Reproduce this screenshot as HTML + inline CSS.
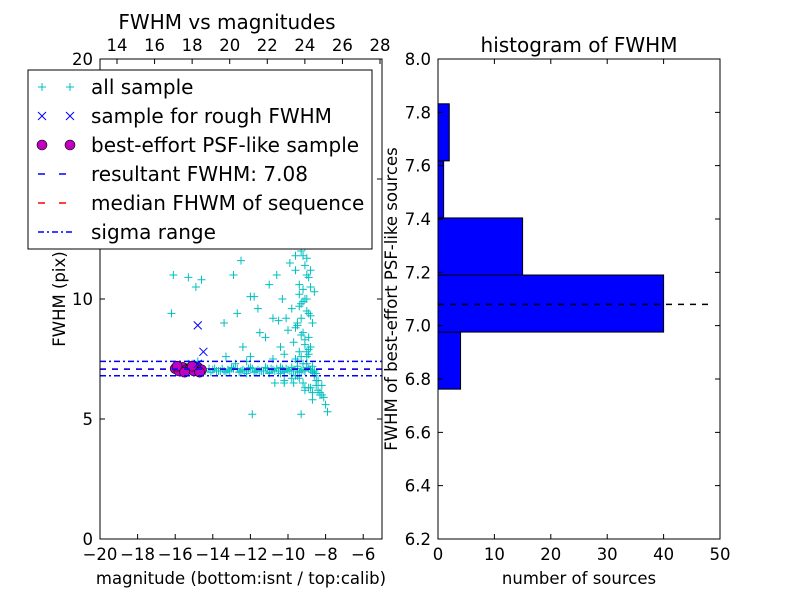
<!DOCTYPE html>
<html><head><meta charset="utf-8"><style>
body{margin:0;background:#fff}
svg{display:block;font-family:"DejaVu Sans","Liberation Sans",sans-serif}
</style></head><body>
<svg id="c" width="800" height="600" viewBox="0 0 800 600">
<rect width="800" height="600" fill="#fff"/>
<g id="left"></g>
<g id="right"></g>
</svg>
<script>
// scatter data: all sample [mag, fwhm]
const allMag = [-16.1,-16.2,-15.3,-14.9,-14.6,-12.9,-12.0,-13.4,-15.1,-15.3,-14.8,-10.8,-11.0,-11.8,-12.5,-12.7,-13.3,-11.5,-12.2,-10.6,-10.3,-9.9,-9.6,-9.3,-9.0,-8.8,-8.6,-9.4,-9.1,-9.8,-10.1,-9.5,-9.2,-8.9,-9.7,-10.4,-9.0,-9.3,-9.6,-8.7,-9.1,-9.5,-9.8,-10.2,-8.5,-8.3,-8.1,-8.0,-7.9,-8.4,-8.6,-8.8,-9.2,-9.4,-8.2,-8.7,-11.2,-10.0,-10.5,-11.6,-12.4,-9.9,-9.0,-9.6,-10.8,-9.3,-11.9,-12.8,-10.7,-13.6,-14.2,-13.8,-13.0,-12.2,-11.4,-10.6,-10.2,-9.8,-14.4,-13.9,-13.4,-12.9,-12.5,-12.1,-11.7,-11.3,-10.9,-10.5,-10.1,-9.7,-9.3,-8.9,-8.6,-14.0,-13.2,-12.4,-11.6,-10.8,-10.0,-9.2,-8.8,-11.0,-10.4,-9.6,-12.2,-9.5,-9.0,-8.5,-9.7,-10.2,-9.1,-12.0,-10.2,-9.4,-8.8,
 -9.3,-9.1,-8.9,-9.4,-9.2,-9.0,-8.8,-9.5,-9.3,-9.1,-8.9,-9.6,-9.4,-9.2,-9.0,-8.7,-9.3,-9.1,-8.9,-9.5,-9.2,-9.0,-9.4,-9.1,-8.8,-9.3,-9.0,-9.6,-9.2,-8.9,
 -13.7,-13.5,-13.1,-12.7,-12.3,-11.9,-11.5,-11.1,-10.7,-10.3,-9.9,-9.5,-9.1,-14.1,-13.3,-12.6,-11.8,-11.0,-10.2,-9.4,-8.7,-13.0,-12.0,-11.2,-10.4,-9.8,-9.0,-8.6,-8.4,-8.2,-8.5,-8.3,-8.7,-8.9,-9.1];
const allFwhm = [11.0,9.4,10.9,10.5,10.8,11.0,10.1,9.0,7.3,7.3,7.4,9.2,10.6,10.1,11.6,9.4,7.6,8.6,7.4,11.0,10.0,11.5,11.8,12.3,11.7,11.2,10.3,10.2,10.0,9.6,9.2,9.0,8.6,8.4,8.2,8.0,7.8,7.6,7.5,7.2,7.0,6.8,6.7,6.5,6.4,6.1,5.9,5.6,5.3,6.6,6.9,6.3,6.5,6.7,6.0,5.8,8.4,8.7,9.1,9.6,8.0,12.6,13.0,12.9,7.5,5.2,5.2,7.3,6.5,7.0,7.1,7.0,7.1,7.0,7.0,7.1,7.0,7.0,7.0,7.1,7.0,7.1,7.0,7.1,7.0,7.0,7.1,7.0,7.1,7.0,7.0,7.1,7.0,7.05,7.05,7.05,7.05,7.05,7.05,7.05,7.05,6.9,6.9,6.8,6.9,7.2,7.3,6.9,6.5,6.6,6.3,7.6,7.7,7.8,10.5,
 12.0,11.4,10.9,10.6,9.9,9.5,9.3,8.9,8.5,8.1,7.9,8.8,9.7,10.4,11.0,9.0,9.2,8.3,7.7,7.4,7.3,7.6,12.8,12.2,8.0,9.8,10.0,11.2,11.8,9.4,
 7.0,7.1,7.0,7.1,7.0,7.1,7.0,7.1,7.0,7.1,7.0,7.1,7.0,6.95,6.95,6.95,6.95,6.95,6.95,6.95,6.95,7.15,7.15,7.15,7.15,7.15,7.15,6.8,6.2,6.4,6.6,6.0,6.1,6.3,6.2];
const roughMag = [-14.8,-14.5,-14.8];
const roughFwhm = [8.9,7.8,7.3];
const psfMag = [-16.0,-15.8,-15.6,-15.4,-15.2,-15.0,-14.8,-14.6,-15.9,-15.5,-15.1,-14.7];
const psfFwhm = [7.1,7.0,7.15,7.05,7.1,7.0,7.15,7.05,7.2,6.95,7.2,6.95];
const resultFwhm = 7.08, medianFwhm = 7.08, sigmaLo = 6.8, sigmaHi = 7.4;
const xTicks = [-20,-18,-16,-14,-12,-10,-8,-6];
const xTickLabels = ["\u221220","\u221218","\u221216","\u221214","\u221212","\u221210","\u22128","\u22126"];
const yTicks = [0,5,10,15,20];
const topTicks = [14,16,18,20,22,24,26,28];
// histogram data
const binEdges = [6.762,6.976,7.190,7.404,7.618,7.832];
const binCounts = [4,40,15,1,2];
const hYTicks = [6.2,6.4,6.6,6.8,7.0,7.2,7.4,7.6,7.8,8.0];
const hXTicks = [0,10,20,30,40,50];

const NS="http://www.w3.org/2000/svg";
function mk(p,t,a,txt){const e=document.createElementNS(NS,t);for(const k in a)e.setAttribute(k,a[k]);if(txt!==undefined)e.textContent=txt;p.appendChild(e);return e;}
const L=document.getElementById('left'), R=document.getElementById('right');
const TF=16.5;
const lx0=100,lx1=382,ly0=59,ly1=539;
const sx=v=>lx0+(v+20)/15*(lx1-lx0);
const sy=v=>ly1-v/20*(ly1-ly0);
const tx=v=>117+(v-14)*(380-117)/14;
let cp=mk(L,'clipPath',{id:'lc'});mk(cp,'rect',{x:lx0,y:ly0,width:lx1-lx0,height:ly1-ly0});
const pts=mk(L,'g',{'clip-path':'url(#lc)'});


allMag.forEach((m,i)=>{const x=sx(m),y=sy(allFwhm[i]);
 const p=mk(pts,'path',{d:`M${x-4},${y}h8M${x},${y-4}v8`,stroke:'#00bfbf','stroke-width':1});
 });
psfMag.forEach((m,i)=>{const c=mk(pts,'circle',{cx:sx(m),cy:sy(psfFwhm[i]),r:5,fill:'#bf00bf',stroke:'#000','stroke-width':0.6});
 });
roughMag.forEach((m,i)=>{const x=sx(m),y=sy(roughFwhm[i]);
 const p=mk(pts,'path',{d:`M${x-4},${y-4}l8,8M${x-4},${y+4}l8,-8`,stroke:'#0000ff','stroke-width':1});
 });
function hline(g,v,col,dash,name){const l=mk(g,'line',{x1:lx0,x2:lx1,y1:sy(v),y2:sy(v),stroke:col,'stroke-width':1.5,'stroke-dasharray':dash});}
hline(pts,sigmaHi,'#0000ff','6,3,2,3','sigma-upper-line');
hline(pts,sigmaLo,'#0000ff','6,3,2,3','sigma-lower-line');
hline(pts,medianFwhm,'#ff0000','6,6','median-line');
hline(pts,resultFwhm,'#0000ff','6,6','result-line');
mk(L,'rect',{x:lx0,y:ly0,width:lx1-lx0,height:ly1-ly0,fill:'none',stroke:'#000'});
xTicks.forEach((v,i)=>{const x=sx(v);mk(L,'path',{d:`M${x},${ly1}v-5`,stroke:'#000'});
 mk(L,'text',{x:x,y:ly1+21,'font-size':TF,'text-anchor':'middle'},xTickLabels[i]);});
topTicks.forEach(v=>{const x=tx(v);mk(L,'path',{d:`M${x},${ly0}v5`,stroke:'#000'});
 mk(L,'text',{x:x,y:ly0-8,'font-size':TF,'text-anchor':'middle'},v);});
yTicks.forEach(v=>{const y=sy(v);mk(L,'path',{d:`M${lx0},${y}h5M${lx1},${y}h-5`,stroke:'#000'});
 mk(L,'text',{x:lx0-7,y:y+6,'font-size':TF,'text-anchor':'end'},v);});
mk(L,'text',{x:227,y:29,'font-size':20,'text-anchor':'middle'},'FWHM vs magnitudes');
mk(L,'text',{x:241,y:584,'font-size':TF,'text-anchor':'middle'},'magnitude (bottom:isnt / top:calib)');
mk(L,'text',{x:65,y:299,'font-size':TF,'text-anchor':'middle',transform:'rotate(-90 65 299)'},'FWHM (pix)');
const lg=mk(L,'g',{});
mk(lg,'rect',{x:28,y:70,width:344,height:179,fill:'#fff',stroke:'#000'});
const items=['all sample','sample for rough FWHM','best-effort PSF-like sample','resultant FWHM: 7.08','median FHWM of sequence','sigma range'];
items.forEach((t,i)=>{const y=87+i*29;
 if(i==0){[42,70].forEach(x=>mk(lg,'path',{d:`M${x-4},${y}h8M${x},${y-4}v8`,stroke:'#00bfbf'}));}
 if(i==1){[42,70].forEach(x=>mk(lg,'path',{d:`M${x-4},${y-4}l8,8M${x-4},${y+4}l8,-8`,stroke:'#0000ff'}));}
 if(i==2){[42,70].forEach(x=>mk(lg,'circle',{cx:x,cy:y,r:5,fill:'#bf00bf',stroke:'#000','stroke-width':0.6}));}
 if(i==3)mk(lg,'line',{x1:38,x2:74,y1:y,y2:y,stroke:'#0000ff','stroke-width':1.5,'stroke-dasharray':'7,14'});
 if(i==4)mk(lg,'line',{x1:38,x2:74,y1:y,y2:y,stroke:'#ff0000','stroke-width':1.5,'stroke-dasharray':'7,14'});
 if(i==5)mk(lg,'line',{x1:38,x2:74,y1:y,y2:y,stroke:'#0000ff','stroke-width':1.5,'stroke-dasharray':'6,3,2,3'});
 const e=mk(lg,'text',{x:91,y:y+7,'font-size':20},t);});
const rx0=438,rx1=720,ry0=59,ry1=539;
const hx=v=>rx0+v/50*(rx1-rx0);
const hy=v=>ry1-(v-6.2)/1.8*(ry1-ry0);
binCounts.forEach((c,i)=>{const b=mk(R,'rect',{x:hx(0),y:hy(binEdges[i+1]),width:hx(c)-hx(0),height:hy(binEdges[i])-hy(binEdges[i+1]),fill:'#0000ff',stroke:'#000'});
 });
mk(R,'line',{x1:hx(0),x2:hx(48.5),y1:hy(resultFwhm),y2:hy(resultFwhm),stroke:'#000','stroke-width':1.5,'stroke-dasharray':'6,6'});
mk(R,'rect',{x:rx0,y:ry0,width:rx1-rx0,height:ry1-ry0,fill:'none',stroke:'#000'});
hXTicks.forEach(v=>{const x=hx(v);mk(R,'path',{d:`M${x},${ry1}v-5M${x},${ry0}v5`,stroke:'#000'});
 mk(R,'text',{x:x,y:ry1+21,'font-size':TF,'text-anchor':'middle'},v);});
hYTicks.forEach(v=>{const y=hy(v);mk(R,'path',{d:`M${rx0},${y}h5M${rx1},${y}h-5`,stroke:'#000'});
 mk(R,'text',{x:rx0-7,y:y+6,'font-size':TF,'text-anchor':'end'},v.toFixed(1));});
mk(R,'text',{x:579,y:52,'font-size':20,'text-anchor':'middle'},'histogram of FWHM');
mk(R,'text',{x:579,y:584,'font-size':TF,'text-anchor':'middle'},'number of sources');
mk(R,'text',{x:397,y:299,'font-size':TF,'text-anchor':'middle',transform:'rotate(-90 397 299)'},'FWHM of best-effort PSF-like sources');
</script>
</body></html>
